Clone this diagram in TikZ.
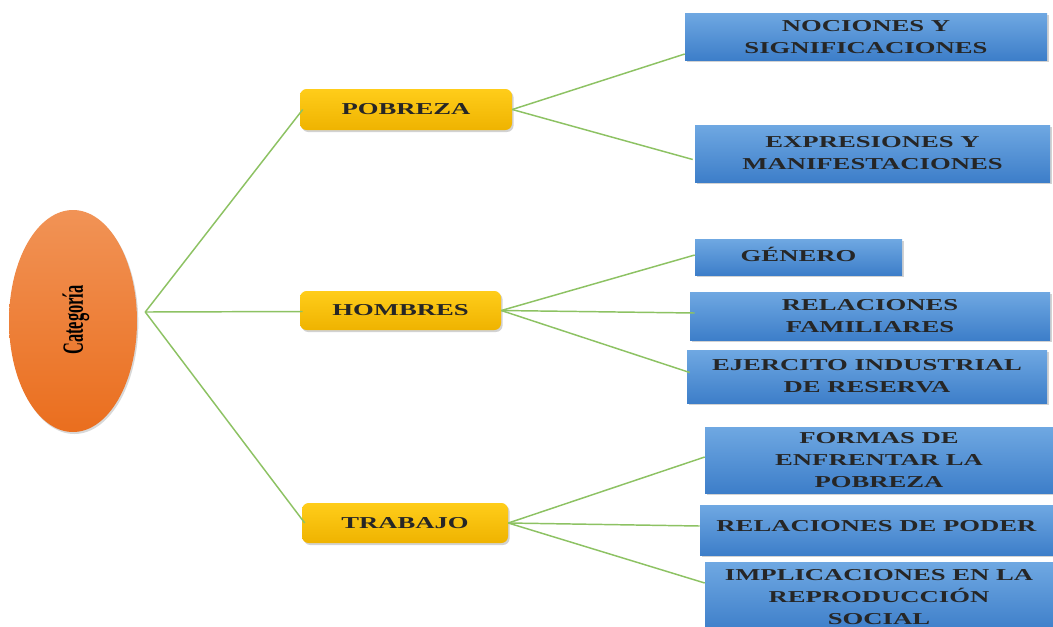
\documentclass[tikz,border=0pt]{standalone}
\usepackage{fontspec}
\setmainfont{Liberation Serif}
\newfontfamily\boxfont{Liberation Serif}[FakeStretch=1.6]
\newfontfamily\catfont{Liberation Serif}[FakeStretch=0.56]
\usetikzlibrary{shapes.geometric,shadows}
\definecolor{bluetop}{HTML}{6FA8E2}
\definecolor{bluebot}{HTML}{3D7EC9}
\definecolor{yeltop}{HTML}{FFCD1A}
\definecolor{yelbot}{HTML}{EFB300}
\definecolor{ortop}{HTML}{F19356}
\definecolor{orbot}{HTML}{EA6E1E}
\definecolor{linkgreen}{HTML}{8DC263}
\tikzset{
  sz/.style 2 args={minimum width=#1*0.75pt, minimum height=#2*0.75pt},
  txt/.style={font={\boxfont\bfseries\fontsize{12.5}{16.5}\selectfont}, align=center, inner sep=0pt, text=black!85},
  bluebox/.style={txt, rectangle, top color=bluetop, bottom color=bluebot, draw=none,
     drop shadow={opacity=0.35, shadow xshift=1.2pt, shadow yshift=-1.5pt}},
  yelbox/.style={txt, rectangle, rounded corners=5pt, top color=yeltop, bottom color=yelbot, draw=none,
     drop shadow={opacity=0.35, shadow xshift=1.2pt, shadow yshift=-1.5pt}},
  catnode/.style={ellipse, inner sep=0pt, top color=ortop, bottom color=orbot, draw=none,
     drop shadow={opacity=0.3, shadow xshift=1pt, shadow yshift=-1.5pt}},
  link/.style={draw=linkgreen, line width=1.1pt}
}
\begin{document}
\begin{tikzpicture}[x=0.75pt, y=-0.75pt]
\useasboundingbox (0,0) rectangle (1053,626);
\clip (0,0) rectangle (1053,626);
\fill[white] (0,0) rectangle (1053,626);

% central ellipse
\node[catnode, sz={128}{222}] (cat) at (73,321) {};
\node[rotate=90, font={\catfont\bfseries\fontsize{22}{22}\selectfont}, inner sep=0pt] (catlbl) at (76,320) {Categoría};

% second level
\node[yelbox, sz={212}{41}] (pob) at (406,109.5) {POBREZA};
\node[yelbox, sz={201}{39}] (hom) at (400.5,310.5) {HOMBRES};
\node[yelbox, sz={206}{40}] (tra) at (405,523) {TRABAJO};

% third level
\node[bluebox, sz={362}{47}, text depth=0pt] (noc) at (866,36.5) {NOCIONES Y\\SIGNIFICACIONES};
\node[bluebox, sz={355}{57}] (exp) at (872.5,153.5) {EXPRESIONES Y\\MANIFESTACIONES};
\node[bluebox, sz={207}{36}, text depth=4pt] (gen) at (798.5,257) {GÉNERO};
\node[bluebox, sz={360}{48}] (relf) at (870,316) {RELACIONES\\FAMILIARES};
\node[bluebox, sz={360}{53}] (eje) at (867,376.5) {EJERCITO INDUSTRIAL\\DE RESERVA};
\node[bluebox, sz={348}{66}] (for) at (879,460) {FORMAS DE\\ENFRENTAR LA\\POBREZA};
\node[bluebox, sz={353}{50}, text depth=6pt] (pod) at (876.5,530) {RELACIONES DE PODER};
\node[bluebox, sz={348}{70}] (imp) at (879,597) {IMPLICACIONES EN LA\\REPRODUCCIÓN\\SOCIAL};

% connectors
\coordinate (hub) at ([shift={(8,-9)}]cat.east);
\draw[link] (hub) -- ([shift={(3,0)}]pob.west);
\draw[link] (hub) -- ([shift={(3,1)}]hom.west);
\draw[link] (hub) -- ([shift={(3,0)}]tra.west);

\draw[link] (pob.east) -- ([shift={(0,17.5)}]noc.west);
\draw[link] (pob.east) -- ([shift={(-2,6)}]exp.west);

\draw[link] (hom.east) -- ([shift={(0,-2)}]gen.west);
\draw[link] (hom.east) -- ([shift={(5,-3)}]relf.west);
\draw[link] (hom.east) -- ([shift={(3,-4)}]eje.west);

\draw[link] (tra.east) -- ([shift={(0,-3)}]for.west);
\draw[link] (tra.east) -- ([shift={(0,-4)}]pod.west);
\draw[link] (tra.east) -- ([shift={(0,-14)}]imp.west);
\end{tikzpicture}
\end{document}
